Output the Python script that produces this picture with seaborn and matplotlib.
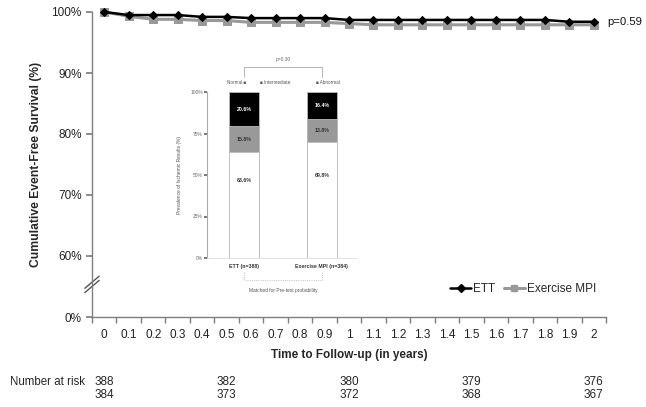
import numpy as np
import pandas as pd
import matplotlib
matplotlib.use("Agg")
import matplotlib.pyplot as plt
import matplotlib.transforms as mtransforms
from matplotlib.lines import Line2D
import seaborn as sns

# ---------------- data ----------------
times = [round(k / 10, 1) for k in range(21)]
ett_surv = [100, 99.5, 99.5, 99.5, 99.2, 99.2, 99.0, 99.0, 99.0, 99.0, 98.7,
            98.7, 98.7, 98.7, 98.7, 98.7, 98.7, 98.7, 98.7, 98.4, 98.4]
mpi_surv = [100, 99.3, 98.8, 98.8, 98.6, 98.6, 98.3, 98.3, 98.3, 98.3, 98.1,
            97.9, 97.9, 97.9, 97.9, 97.9, 97.9, 97.9, 97.9, 97.9, 97.9]
x_tick_labels = ["0", "0.1", "0.2", "0.3", "0.4", "0.5", "0.6", "0.7", "0.8", "0.9", "1",
                 "1.1", "1.2", "1.3", "1.4", "1.5", "1.6", "1.7", "1.8", "1.9", "2"]
y_tick_values = [50, 60, 70, 80, 90, 100]
y_tick_labels = ["0%", "60%", "70%", "80%", "90%", "100%"]

risk_times = [0, 0.5, 1, 1.5, 2]
risk_ett = [388, 382, 380, 379, 376]
risk_mpi = [384, 373, 372, 368, 367]

inset_groups = ["ETT (n=388)", "Exercise MPI (n=384)"]
inset_normal = [63.6, 69.8]
inset_intermediate = [15.8, 13.8]
inset_abnormal = [20.6, 16.4]

# ---------------- style ----------------
sns.set_theme(style="white")
plt.rcParams["font.family"] = ["Liberation Sans", "DejaVu Sans"]

fig = plt.figure(figsize=(6.46, 4.07), dpi=100)
ax = fig.add_axes([92 / 646, 1 - 317 / 407, 514 / 646, 305 / 407])

df_ett = pd.DataFrame({"time": times, "surv": ett_surv})
df_mpi = pd.DataFrame({"time": times, "surv": mpi_surv})

sns.lineplot(data=df_mpi, x="time", y="surv", ax=ax, color="#999999", lw=2.2,
             marker="s", markersize=6, markeredgecolor="#999999", clip_on=False,
             zorder=3)
sns.lineplot(data=df_ett, x="time", y="surv", ax=ax, color="black", lw=1.8,
             marker="D", markersize=4.3, markeredgecolor="black", clip_on=False,
             zorder=4)

ax.set_xlim(-0.05, 2.05)
ax.set_ylim(50, 100)

axis_col = "#7f7f7f"
for s in ["top", "right"]:
    ax.spines[s].set_visible(False)
for s in ["left", "bottom"]:
    ax.spines[s].set_color(axis_col)
    ax.spines[s].set_linewidth(1.0)

ax.set_xticks(times)
ax.set_xticklabels(x_tick_labels)
ax.set_xticks([round(-0.05 + 0.1 * k, 2) for k in range(22)], minor=True)
ax.tick_params(axis="x", which="major", length=0, pad=9, labelsize=8.5, colors="#222222")
ax.tick_params(axis="x", which="minor", length=4, color=axis_col, direction="out")
ax.xaxis.set_tick_params(which="minor", bottom=True)

ax.set_yticks(y_tick_values)
ax.set_yticklabels(y_tick_labels)
ax.tick_params(axis="y", length=4, color=axis_col, direction="out", labelsize=8.5,
               colors="#222222", left=True)

ax.set_xlabel("Time to Follow-up (in years)", fontsize=8.5, fontweight="bold")
ax.xaxis.set_label_coords(0.5, -0.105)
ax.set_ylabel("Cumulative Event-Free Survival (%)", fontsize=8.7, fontweight="bold")
ax.yaxis.set_label_coords(-0.097, 0.5)

# axis break marks
for dy in (0.0, 0.014):
    ax.plot([-0.014, 0.014], [0.1 - 0.02 + dy, 0.1 + 0.02 + dy], transform=ax.transAxes,
            color="#555555", lw=1.0, clip_on=False)

# p value
ax.text(2.056, 98.4, "p=0.59", fontsize=8.2, va="center", ha="left", color="#111111")

# legend
handles = [Line2D([0], [0], color="black", lw=1.8, marker="D", markersize=4),
           Line2D([0], [0], color="#999999", lw=2.2, marker="s", markersize=5)]
ax.legend(handles, ["ETT", "Exercise MPI"], loc="center", ncol=2, frameon=False,
          bbox_to_anchor=(523 / 646, 1 - 289 / 407), bbox_transform=fig.transFigure,
          fontsize=8.5, handlelength=1.8, handletextpad=0.15, columnspacing=0.7)

# number at risk
trans = mtransforms.blended_transform_factory(ax.transData, fig.transFigure)
fig.text(10 / 646, 1 - 382 / 407, "Number at risk", fontsize=8.3, va="center", ha="left")
for t, a, b in zip(risk_times, risk_ett, risk_mpi):
    ax.text(t, 1 - 382 / 407, str(a), transform=trans, fontsize=8.5, ha="center",
            va="center", clip_on=False)
    ax.text(t, 1 - 395 / 407, str(b), transform=trans, fontsize=8.5, ha="center",
            va="center", clip_on=False)

# ---------------- inset stacked bar chart ----------------
axi = fig.add_axes([207 / 646, 1 - 258 / 407, 150 / 646, 166 / 407])
axi.patch.set_alpha(0)
dfi = pd.DataFrame({
    "group": inset_groups,
    "top": [n + i + a for n, i, a in zip(inset_normal, inset_intermediate, inset_abnormal)],
    "mid": [n + i for n, i in zip(inset_normal, inset_intermediate)],
    "low": inset_normal,
})
bw = 0.385
sns.barplot(data=dfi, x="group", y="top", ax=axi, color="black", width=bw,
            saturation=1, edgecolor="#bbbbbb", linewidth=0.6)
sns.barplot(data=dfi, x="group", y="mid", ax=axi, color="#999999", width=bw,
            saturation=1, edgecolor="#bbbbbb", linewidth=0.6)
sns.barplot(data=dfi, x="group", y="low", ax=axi, color="white", width=bw,
            saturation=1, edgecolor="#bbbbbb", linewidth=0.6)
axi.set_xlim(-0.474, 1.45)
axi.set_ylim(0, 100)
for s in ["top", "right"]:
    axi.spines[s].set_visible(False)
axi.spines["left"].set_color("#aaaaaa")
axi.spines["bottom"].set_color("#dddddd")
axi.spines["left"].set_linewidth(0.8)
axi.spines["bottom"].set_linewidth(0.6)
axi.set_yticks([0, 25, 50, 75, 100])
axi.set_yticklabels(["0%", "25%", "50%", "75%", "100%"])
axi.tick_params(axis="y", labelsize=3.5, colors="#666666", length=2, left=True, pad=1)
axi.tick_params(axis="x", labelsize=3.8, length=0, pad=4, colors="#333333")
for lab in axi.get_xticklabels():
    lab.set_fontweight("bold")
axi.set_xlabel("")
axi.set_ylabel("Prevalence of Ischemic Results (%)", fontsize=3.5, color="#555555",
               labelpad=6)

for i, (n, m, a) in enumerate(zip(inset_normal, inset_intermediate, inset_abnormal)):
    axi.text(i, n / 2 + 15, f"{n:.1f}%", fontsize=3.8, ha="center", va="center",
             color="#333333", fontweight="bold")
    axi.text(i, n + m / 2, f"{m:.1f}%", fontsize=3.8, ha="center", va="center",
             color="#333333", fontweight="bold")
    axi.text(i, n + m + a / 2, f"{a:.1f}%", fontsize=3.8, ha="center", va="center",
             color="white", fontweight="bold")

# inset legend row and brackets
axi.text(-0.09, 105.5, "Normal ■", fontsize=3.3, ha="center", va="center",
         color="#555555", clip_on=False)
axi.text(0.4, 105.5, "■ Intermediate", fontsize=3.3, ha="center", va="center",
         color="#555555", clip_on=False)
axi.text(1.08, 105.5, "■ Abnormal", fontsize=3.3, ha="center", va="center",
         color="#555555", clip_on=False)
axi.plot([0, 0, 1, 1], [109, 115, 115, 109], color="#aaaaaa", lw=0.6, clip_on=False)
axi.text(0.5, 119.5, "p=0.30", fontsize=3.5, ha="center", va="center",
         color="#666666", clip_on=False)
axi.plot([0, 0, 1, 1], [-8.5, -13.5, -13.5, -8.5], color="#aaaaaa", lw=0.6,
         clip_on=False, ls=":")
axi.text(0.5, -19.5, "Matched for Pre-test probability", fontsize=3.5, ha="center",
         va="center", color="#555555", clip_on=False)

fig.savefig("out.png", dpi=100)
